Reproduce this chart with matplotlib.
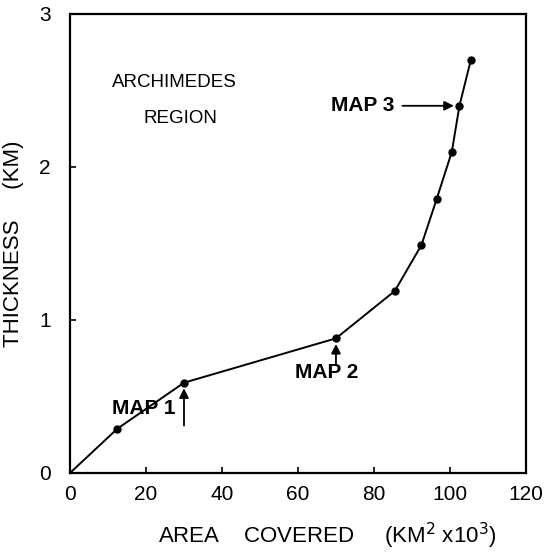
import matplotlib
matplotlib.use("Agg")
import matplotlib.pyplot as plt

area = [0, 12.5, 30, 70, 85.5, 92.5, 96.5, 100.5, 102.5, 105.5]
thickness = [0, 0.29, 0.59, 0.88, 1.19, 1.49, 1.79, 2.10, 2.40, 2.70]
marked_area = area[1:]
marked_thk = thickness[1:]
x_ticks = [0, 20, 40, 60, 80, 100, 120]
y_ticks = [0, 1, 2, 3]
map_labels = ["MAP 1", "MAP 2", "MAP 3"]
map_idx = [2, 3, 8]

plt.rcParams['font.family'] = ['Liberation Sans', 'DejaVu Sans']
fig = plt.figure(figsize=(5.49, 5.53), dpi=100)
ax = fig.add_axes([0.1275, 0.1447, 0.958 - 0.1275, 0.9747 - 0.1447])
ax.plot(area, thickness, color='black', lw=1.4)
ax.plot(marked_area, marked_thk, 'o', color='black', ms=5)
ax.set_xlim(0, 120)
ax.set_ylim(0, 3)
ax.set_xticks(x_ticks)
ax.set_yticks(y_ticks)
ax.tick_params(direction='in', length=4, width=1.2, labelsize=15)
ax.tick_params(axis='x', pad=9)
ax.tick_params(axis='y', pad=14)
for s in ax.spines.values():
    s.set_linewidth(1.6)

ax.set_xlabel(r"AREA    COVERED     (KM$^{2}$ x10$^{3}$)", fontsize=16)
ax.set_ylabel("THICKNESS     (KM)", fontsize=16)
ax.xaxis.set_label_coords(0.565, -0.105)
ax.yaxis.set_label_coords(-0.1, 0.5)

ax.text(27.6, 2.55, "ARCHIMEDES", ha='center', va='center', fontsize=13.5)
ax.text(29, 2.32, "REGION", ha='center', va='center', fontsize=13.5)

arrowprops = dict(arrowstyle='-|>', color='black', lw=1.3, mutation_scale=14, shrinkA=0, shrinkB=4)
i1, i2, i3 = map_idx
ax.annotate("", xy=(area[i1], thickness[i1]), xytext=(area[i1], 0.31), arrowprops=arrowprops)
ax.text(19.5, 0.42, map_labels[0], ha='center', va='center', fontsize=15, fontweight='bold')
ax.annotate("", xy=(area[i2], thickness[i2]), xytext=(area[i2], 0.71), arrowprops=arrowprops)
ax.text(67.6, 0.66, map_labels[1], ha='center', va='center', fontsize=15, fontweight='bold')
ax.annotate("", xy=(area[i3], thickness[i3]), xytext=(87.5, thickness[i3]), arrowprops=arrowprops)
ax.text(77, thickness[i3], map_labels[2], ha='center', va='center', fontsize=15, fontweight='bold')

fig.savefig("out.png", dpi=100)
